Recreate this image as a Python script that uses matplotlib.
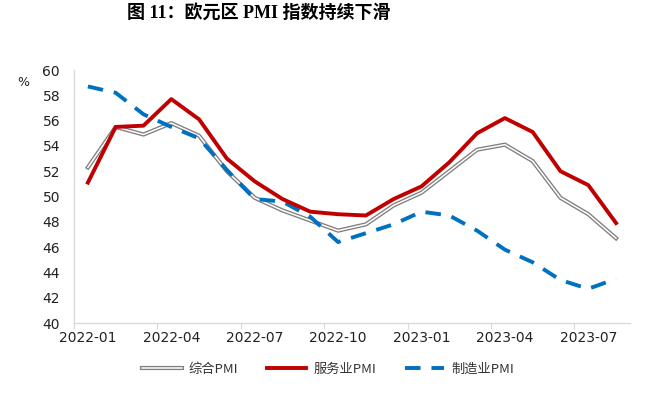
import matplotlib
matplotlib.use("Agg")
import matplotlib.pyplot as plt
import matplotlib.patheffects as pe

plt.rcParams['font.family'] = ['Noto Sans CJK SC', 'DejaVu Sans']

months = ['2022-01', '2022-02', '2022-03', '2022-04', '2022-05', '2022-06',
          '2022-07', '2022-08', '2022-09', '2022-10', '2022-11', '2022-12',
          '2023-01', '2023-02', '2023-03', '2023-04', '2023-05', '2023-06',
          '2023-07', '2023-08']
composite = [52.3, 55.5, 54.9, 55.8, 54.8, 52.0, 49.9, 48.9, 48.1, 47.3,
             47.8, 49.3, 50.3, 52.0, 53.7, 54.1, 52.8, 49.9, 48.6, 46.7]
services = [51.1, 55.5, 55.6, 57.7, 56.1, 53.0, 51.2, 49.8, 48.8, 48.6,
            48.5, 49.8, 50.8, 52.7, 55.0, 56.2, 55.1, 52.0, 50.9, 47.9]
manufacturing = [58.7, 58.2, 56.5, 55.5, 54.6, 52.1, 49.8, 49.6, 48.4, 46.4,
                 47.1, 47.8, 48.8, 48.5, 47.3, 45.8, 44.8, 43.4, 42.7, 43.5]

x = list(range(len(months)))

fig = plt.figure(figsize=(6.6, 3.94), dpi=100)
ax = fig.add_axes([0.1121, 0.1802, 0.8424, 0.6421])

ax.plot(x, composite, color='white', lw=1.1, label='综合PMI',
        path_effects=[pe.Stroke(linewidth=3.0, foreground='#7f7f7f'), pe.Normal()])
ax.plot(x, manufacturing, color='#0070C0', lw=2.8, ls=(0, (4, 2.8)),
        label='制造业PMI')
ax.plot(x, services, color='#C00000', lw=2.8, label='服务业PMI')

ax.set_xlim(-0.5, 19.5)
ax.set_ylim(40, 60)
ax.set_yticks(range(40, 61, 2))
ax.set_xticks([i - 0.5 for i in range(0, 20, 3)])
ax.set_xticklabels([])
ax.set_xticks(range(0, 20, 3), minor=True)
ax.set_xticklabels([months[i] for i in range(0, 20, 3)], minor=True)
ax.tick_params(axis='x', which='major', length=4, color='#d9d9d9')
ax.tick_params(axis='x', which='minor', length=0, pad=6, labelsize=10,
               labelcolor='#222222')
ax.tick_params(axis='y', length=0, pad=10, labelsize=10, labelcolor='#222222')
for lab in ax.get_xticklabels(minor=True) + ax.get_yticklabels():
    lab.set_family('DejaVu Sans')

for s in ['top', 'right']:
    ax.spines[s].set_visible(False)
for s in ['left', 'bottom']:
    ax.spines[s].set_color('#d9d9d9')
    ax.spines[s].set_linewidth(1.0)

fig.text(23 / 660, 1 - 83 / 394, '%', fontsize=9, ha='center', va='center',
         color='#222222', family='DejaVu Sans')
fig.text(259 / 660, 1 - 13 / 394, '图 11：欧元区 PMI 指数持续下滑', fontsize=13,
         fontweight='bold', ha='center', va='center',
         family=['Liberation Serif', 'Noto Sans CJK SC'])

h, l = ax.get_legend_handles_labels()
order = [0, 2, 1]
fig.legend([h[i] for i in order], [l[i] for i in order], loc='center',
           bbox_to_anchor=(328 / 660, 1 - 369 / 394), ncol=3, frameon=False,
           fontsize=9.5, handlelength=3.0, columnspacing=2.2, handletextpad=0.5,
           labelcolor='#333333')

fig.savefig('out.png', dpi=100)
